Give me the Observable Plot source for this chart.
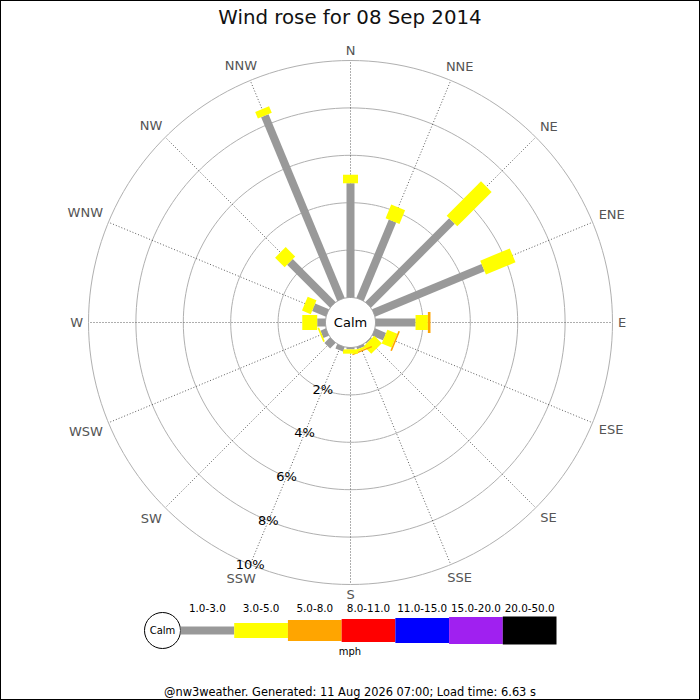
<!DOCTYPE html>
<html>
<head>
<meta charset="utf-8">
<script src="https://cdn.jsdelivr.net/npm/d3@7"></script>
<script src="https://cdn.jsdelivr.net/npm/@observablehq/plot@0.6"></script>
<style>
  html, body { margin: 0; padding: 0; background: #fff; }
  #page { position: relative; width: 700px; height: 700px; overflow: hidden;
          font-family: "DejaVu Sans", sans-serif; color: #000; }
  #page > * { position: absolute; left: 0; }
  #title { top: 6px; width: 700px; text-align: center; font-size: 19.8px; color: #111; }
  #rose { top: 0; }
  #legend { top: 600px; }
  #unit { top: 646px; width: 700px; text-align: center; font-size: 10px; }
  #footer { top: 685px; width: 700px; text-align: center; font-size: 11.4px; }
  #frame { top: 0; width: 700px; height: 700px; box-sizing: border-box;
           border: 1px solid #000; pointer-events: none; }
</style>
</head>
<body>
<div id="page">
  <div id="title"></div>
  <div id="rose"></div>
  <div id="legend"></div>
  <div id="unit"></div>
  <div id="footer"></div>
  <div id="frame"></div>
</div>
<script>
// Wind rose, 08 Sep 2014 — percent of time per direction and speed band.
const title = "Wind rose for 08 Sep 2014";
const unitLabel = "mph";
const footer = "@nw3weather. Generated: 11 Aug 2026 07:00; Load time: 6.63 s";

const directions = ["N", "NNE", "NE", "ENE", "E", "ESE", "SE", "SSE",
                    "S", "SSW", "SW", "WSW", "W", "WNW", "NW", "NNW"];
const bands = ["1.0-3.0", "3.0-5.0", "5.0-8.0", "8.0-11.0",
               "11.0-15.0", "15.0-20.0", "20.0-50.0"];
const bandColors = ["#999999", "#ffff00", "#ffa500", "#ff0000",
                    "#0000ff", "#a020f0", "#000000"];

// percent of the day, per direction (same order as directions)
const band1to3   = [4.82, 3.58, 5.00, 5.00, 1.69, 0.50, 0.05, 0.10,
                    0.08, 0.20, 0.33, 0.25, 0.35, 0.63, 2.56, 8.39];
const band3to5   = [0.36, 0.62, 2.05, 1.35, 0.52, 0.45, 0.45, 0.10,
                    0.18, 0.00, 0.00, 0.07, 0.63, 0.40, 0.57, 0.30];
const band5to8   = [0, 0, 0, 0, 0.11, 0.07, 0, 0.06, 0, 0, 0, 0, 0, 0, 0, 0];
const band8to11  = [0, 0, 0, 0, 0, 0, 0, 0, 0, 0, 0, 0, 0, 0, 0, 0];
const band11to15 = [0, 0, 0, 0, 0, 0, 0, 0, 0, 0, 0, 0, 0, 0, 0, 0];
const band15to20 = [0, 0, 0, 0, 0, 0, 0, 0, 0, 0, 0, 0, 0, 0, 0, 0];
const band20to50 = [0, 0, 0, 0, 0, 0, 0, 0, 0, 0, 0, 0, 0, 0, 0, 0];
const bandValues = [band1to3, band3to5, band5to8, band8to11,
                    band11to15, band15to20, band20to50];

const ringTicks = [2, 4, 6, 8, 10];

// --- layout (pixels) ---
const W = 700, H = 700;
const CX = 350, CY = 322;        // rose centre
const PX = 23.7;                 // pixels per percent
const CALM = 25 / PX;            // calm circle radius, in percent units
const OUTER = CALM + ringTicks[ringTicks.length - 1];
const barWidths = [8, 15, 21, 23, 25, 27, 28];
const font = "DejaVu Sans";

const rad = i => i * 22.5 * Math.PI / 180;
const toX = (a, r) => r * Math.sin(a);
const toY = (a, r) => r * Math.cos(a);

// rings (calm circle + percent rings), sampled round the circle
const ringRadii = [CALM].concat(ringTicks.map(t => CALM + t));
const ringPts = ringRadii.flatMap((r, k) =>
  d3.range(0, 361, 2).map(a => ({k, r, a: a * Math.PI / 180})));

// stacked bar segments
const segments = [];
directions.forEach((dir, i) => {
  let cum = 0;
  bandValues.forEach((vals, b) => {
    const v = vals[i];
    if (v > 0) segments.push({dir, a: rad(i), b, r1: CALM + cum, r2: CALM + cum + v});
    cum += v;
  });
});

// direction label radius: just outside the outer ring, clear of the text box
const ctx = document.createElement("canvas").getContext("2d");
ctx.font = `13px "${font}"`;
const dirLabels = directions.map((d, i) => {
  const a = rad(i);
  const hw = ctx.measureText(d).width / 2, hh = 4.5;
  const off = (5.5 + hw * Math.abs(Math.sin(a)) + hh * Math.abs(Math.cos(a))) / PX;
  // the original pushes the in-between labels a little further sideways
  const side = Math.abs(Math.sin(a)) < 1e-6 ? 0 : Math.sign(Math.sin(a)) * Math.abs(Math.cos(a)) * 3.5;
  return {d, a, r: OUTER + off, side};
});

const labelAngle = rad(9); // SSW

const rose = Plot.plot({
  width: W,
  height: H,
  margin: 0,
  x: {domain: [-CX / PX, (W - CX) / PX], axis: null},
  y: {domain: [-(H - CY) / PX, CY / PX], axis: null},
  color: {type: "identity"},
  style: {fontFamily: font, background: "transparent", overflow: "visible"},
  marks: [
    // percent rings
    Plot.line(ringPts.filter(p => p.k > 0), {
      x: p => toX(p.a, p.r), y: p => toY(p.a, p.r), z: "k",
      stroke: "#b0b0b0", strokeWidth: 1
    }),
    // direction spokes
    Plot.link(directions, {
      x1: (d, i) => toX(rad(i), CALM), y1: (d, i) => toY(rad(i), CALM),
      x2: (d, i) => toX(rad(i), OUTER), y2: (d, i) => toY(rad(i), OUTER),
      stroke: "#333", strokeWidth: 0.8, strokeDasharray: "1,2"
    }),
    // calm circle
    Plot.line(ringPts.filter(p => p.k === 0), {
      x: p => toX(p.a, p.r), y: p => toY(p.a, p.r),
      stroke: "#999", strokeWidth: 1, fill: "white"
    }),
    // bars
    Plot.link(segments, {
      x1: s => toX(s.a, s.r1), y1: s => toY(s.a, s.r1),
      x2: s => toX(s.a, s.r2), y2: s => toY(s.a, s.r2),
      stroke: s => bandColors[s.b], strokeWidth: s => barWidths[s.b],
      strokeLinecap: "butt"
    }),
    Plot.text(["Calm"], {x: 0, y: 0, text: d => d, fontSize: 13, fill: "#000"}),
    // compass labels
    Plot.text(dirLabels, {
      x: l => toX(l.a, l.r) + l.side / PX, y: l => toY(l.a, l.r),
      text: "d", fontSize: 13, fill: "#555"
    }),
    // percent labels along SSW
    Plot.text(ringTicks, {
      x: t => toX(labelAngle, CALM + t), y: t => toY(labelAngle, CALM + t),
      text: t => t + "%", fontSize: 13, fill: "#000"
    })
  ]
});
document.getElementById("rose").append(rose);

const legend = Plot.plot({
  width: W,
  height: 60,
  marginLeft: 180,
  marginRight: 144,
  marginTop: 0,
  marginBottom: 0,
  x: {domain: [0, bands.length], axis: null},
  y: {domain: [-1, 1], axis: null},
  color: {type: "identity"},
  style: {fontFamily: font, background: "transparent", overflow: "visible"},
  marks: [
    Plot.dot(["Calm"], {x: 0, y: 0, r: 18, dx: -18, fill: "white", stroke: "#000", strokeWidth: 1}),
    Plot.text(["Calm"], {x: 0, y: 0, dx: -18, text: d => d, fontSize: 10, fill: "#000"}),
    Plot.link(bands, {
      x1: (d, i) => i, x2: (d, i) => i + 1, y1: 0, y2: 0,
      stroke: (d, i) => bandColors[i], strokeWidth: (d, i) => barWidths[i],
      strokeLinecap: "butt"
    }),
    Plot.text(bands, {
      x: (d, i) => i + 0.5, y: 0, dy: -22, text: d => d,
      fontSize: 10.4, fill: "#000"
    })
  ]
});
document.getElementById("legend").append(legend);

document.getElementById("title").textContent = title;
document.getElementById("unit").textContent = unitLabel;
document.getElementById("footer").textContent = footer;
</script>
</body>
</html>
